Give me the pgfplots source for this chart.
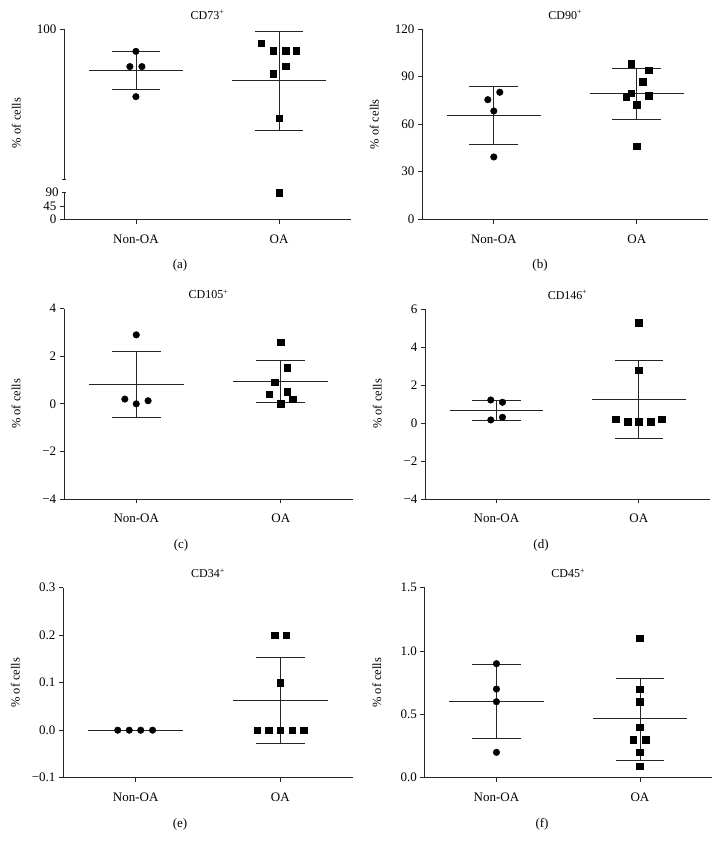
\documentclass[border=0pt]{standalone}
\usepackage{fontspec}
\setmainfont{Liberation Serif}
\usepackage{pgfplots}
\pgfplotsset{compat=1.18}
\pgfplotsset{
  panel/.style={
    scale only axis, width=287pt, height=190pt,
    xmin=-0.5, xmax=1.5,
    axis x line*=bottom, axis y line*=left,
    axis line style={-, black!85, line width=0.8pt},
    every tick/.style={black!85, line width=0.8pt},
    major tick length=4.3pt, tick align=outside,
    xtick pos=lower, ytick pos=left,
    xtick={0,1}, xticklabels={Non-OA,OA},
    tick label style={font=\fontsize{13}{15}\selectfont},
    xticklabel style={yshift=-7.5pt},
    title style={font=\fontsize{12}{14}\selectfont, at={(0.5,1)}, anchor=base, yshift=3.7pt},
    ylabel={\% of cells},
    ylabel style={font=\fontsize{12.5}{14}\selectfont, at={(axis description cs:0,0.5)}, anchor=center, yshift=48pt},
    clip=false,
  },
  circ/.style={only marks, mark=*, mark size=3.3pt, black},
  sq/.style={only marks, mark=square*, mark size=3.3pt, black},
  stat/.style={black!85, line width=0.8pt, no marks},
}
\newcommand{\msdN}[3]{%
  \addplot[stat] coordinates {(-0.33,#1) (0.33,#1)};
  \addplot[stat] coordinates {(-0.17,#2) (0.17,#2)};
  \addplot[stat] coordinates {(-0.17,#3) (0.17,#3)};
  \addplot[stat] coordinates {(0,#2) (0,#3)};}
\newcommand{\msdO}[3]{%
  \addplot[stat] coordinates {(0.67,#1) (1.33,#1)};
  \addplot[stat] coordinates {(0.83,#2) (1.17,#2)};
  \addplot[stat] coordinates {(0.83,#3) (1.17,#3)};
  \addplot[stat] coordinates {(1,#2) (1,#3)};}
\begin{document}
\begin{tikzpicture}
\path[use as bounding box] (0,0) rectangle (720pt,850pt);

% ---------- (a) top segment
\begin{axis}[panel, at={(64.3pt,671pt)}, anchor=south west, width=286.4pt, height=150pt,
  ymin=90.625, ymax=100, axis x line=none,
  ytick={100}, yticklabels={100},
  extra y ticks={90.625}, extra y tick labels={}, extra y tick style={tick align=center},
  title={CD73\textsuperscript{+}},
  ylabel style={at={(axis description cs:0,0.373)}}]
\msdN{97.42}{96.23}{98.60}
\msdO{96.79}{93.69}{99.83}
\addplot[circ] coordinates {(0,98.60) (-0.042,97.65) (0.042,97.65) (0,95.77)};
\addplot[sq] coordinates {(0.876,99.10) (0.958,98.625) (1.044,98.625) (1.119,98.625) (1.044,97.67) (0.958,97.21) (1,94.42)};
\end{axis}
% ---------- (a) bottom segment
\begin{axis}[panel, at={(64.3pt,630.3pt)}, anchor=south west, width=286.4pt, height=27pt,
  ymin=0, ymax=90, ylabel={},
  ytick={0,45}, yticklabels={0,45},
  extra y ticks={90}, extra y tick labels={90}, extra y tick style={tick align=center}]
\addplot[sq] coordinates {(1,89)};
\end{axis}

% ---------- (b)
\begin{axis}[panel, at={(422.3pt,630.7pt)}, anchor=south west, width=286pt, height=190.3pt,
  ymin=0, ymax=120, ytick={0,30,60,90,120}, yticklabels={0,30,60,90,120},
  title={CD90\textsuperscript{+}}]
\msdN{65.6}{47.5}{83.6}
\msdO{79.2}{63.0}{95.2}
\addplot[circ] coordinates {(-0.042,75.4) (0.042,80.1) (0,68.3) (0,39.3)};
\addplot[sq] coordinates {(0.960,98.0) (1.084,93.9) (1.042,86.8) (0.960,79.6) (0.925,77.3) (1.084,78.0) (1,72.1) (1,46.0)};
\end{axis}

% ---------- (c)
\begin{axis}[panel, at={(64pt,351pt)}, anchor=south west, width=289pt, height=190.3pt,
  ymin=-4, ymax=4, ytick={-4,-2,0,2,4}, yticklabels={−4,−2,0,2,4},
  title={CD105\textsuperscript{+}}]
\msdN{0.81}{-0.59}{2.20}
\msdO{0.94}{0.04}{1.81}
\addplot[circ] coordinates {(0,2.90) (-0.079,0.20) (0,0.0) (0.082,0.13)};
\addplot[sq] coordinates {(1,2.59) (1.044,1.51) (0.958,0.91) (0.921,0.41) (1.044,0.50) (1.082,0.20) (1,0.01)};
\end{axis}

% ---------- (d)
\begin{axis}[panel, at={(425.3pt,351pt)}, anchor=south west, width=284.7pt, height=190pt,
  ymin=-4, ymax=6, ytick={-4,-2,0,2,4,6}, yticklabels={−4,−2,0,2,4,6},
  title={CD146\textsuperscript{+}}]
\msdN{0.68}{0.14}{1.18}
\msdO{1.25}{-0.82}{3.30}
\addplot[circ] coordinates {(-0.04,1.21) (0.042,1.09) (0.042,0.30) (-0.04,0.16)};
\addplot[sq] coordinates {(1,5.28) (1,2.77) (0.837,0.19) (0.921,0.07) (1,0.07) (1.082,0.07) (1.159,0.19)};
\end{axis}

% ---------- (e)
\begin{axis}[panel, at={(63.3pt,72.3pt)}, anchor=south west, width=289.4pt, height=190pt,
  ymin=-0.1, ymax=0.3, ytick={-0.1,0,0.1,0.2,0.3}, yticklabels={−0.1,0.0,0.1,0.2,0.3},
  title={CD34\textsuperscript{+}}]
\addplot[stat] coordinates {(-0.33,-0.001) (0.33,-0.001)};
\msdO{0.0635}{-0.028}{0.154}
\addplot[circ] coordinates {(-0.124,0) (-0.044,0) (0.035,0) (0.117,0)};
\addplot[sq] coordinates {(0.960,0.2) (1.040,0.2) (1,0.1) (0.841,0) (0.921,0) (1,0) (1.082,0) (1.161,0)};
\end{axis}

% ---------- (f)
\begin{axis}[panel, at={(424.7pt,72.3pt)}, anchor=south west, width=287pt, height=190pt,
  ymin=0, ymax=1.5, ytick={0,0.5,1,1.5}, yticklabels={0.0,0.5,1.0,1.5},
  title={CD45\textsuperscript{+}}]
\msdN{0.60}{0.31}{0.895}
\msdO{0.466}{0.137}{0.787}
\addplot[circ] coordinates {(0,0.9) (0,0.7) (0,0.6) (0,0.2)};
\addplot[sq] coordinates {(1,1.1) (1,0.7) (1,0.6) (1,0.4) (0.953,0.3) (1.040,0.3) (1,0.2) (1,0.09)};
\end{axis}

% sub-captions
\node[font=\fontsize{13}{15}\selectfont] at (180pt,585pt) {(a)};
\node[font=\fontsize{13}{15}\selectfont] at (540pt,585pt) {(b)};
\node[font=\fontsize{13}{15}\selectfont] at (181pt,305pt) {(c)};
\node[font=\fontsize{13}{15}\selectfont] at (541pt,305pt) {(d)};
\node[font=\fontsize{13}{15}\selectfont] at (180pt,26pt) {(e)};
\node[font=\fontsize{13}{15}\selectfont] at (542pt,26pt) {(f)};
\end{tikzpicture}
\end{document}
